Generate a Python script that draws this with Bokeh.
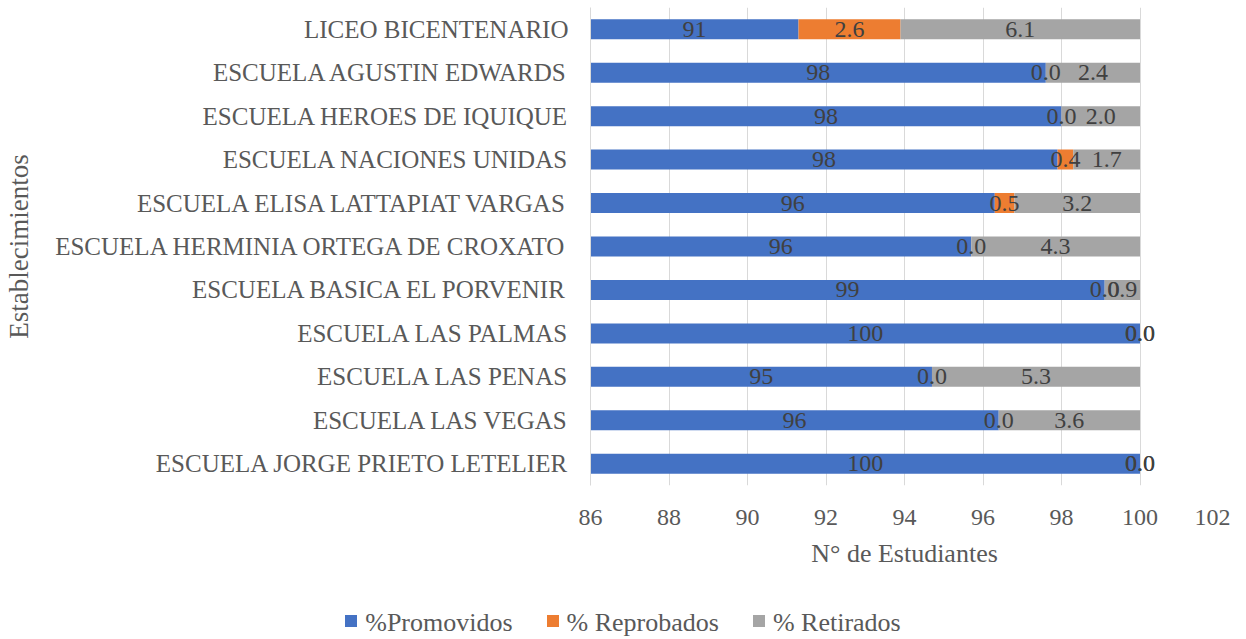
from bokeh.plotting import figure
from bokeh.layouts import column
from bokeh.models import ColumnDataSource, FactorRange, LabelSet, Range1d, Div
from bokeh.embed import file_html
from bokeh.resources import INLINE
from bokeh.core.properties import value

# Categories listed bottom -> top
schools = [
    "ESCUELA JORGE PRIETO LETELIER",
    "ESCUELA LAS VEGAS",
    "ESCUELA LAS PENAS",
    "ESCUELA LAS PALMAS",
    "ESCUELA BASICA EL PORVENIR",
    "ESCUELA HERMINIA ORTEGA DE CROXATO",
    "ESCUELA ELISA LATTAPIAT VARGAS",
    "ESCUELA NACIONES UNIDAS",
    "ESCUELA HEROES DE IQUIQUE",
    "ESCUELA AGUSTIN EDWARDS",
    "LICEO BICENTENARIO",
]
promovidos = [100.0, 96.4, 94.7, 100.0, 99.1, 95.7, 96.3, 97.9, 98.0, 97.6, 91.3]
reprobados = [0.0, 0.0, 0.0, 0.0, 0.0, 0.0, 0.5, 0.4, 0.0, 0.0, 2.6]
retirados = [0.0, 3.6, 5.3, 0.0, 0.9, 4.3, 3.2, 1.7, 2.0, 2.4, 6.1]
series_names = ["%Promovidos", "% Reprobados", "% Retirados"]
x_ticks = [86, 88, 90, 92, 94, 96, 98, 100, 102]

X_START, X_END = 86, 102
FONT = "Liberation Serif"
colors = ["#4472C4", "#ED7D31", "#A5A5A5"]

source = ColumnDataSource(dict(
    school=schools, prom=promovidos, rep=reprobados, ret=retirados,
    prom_x=[(X_START + p) / 2 for p in promovidos],
    rep_x=[p + r / 2 for p, r in zip(promovidos, reprobados)],
    ret_x=[p + r + t / 2 for p, r, t in zip(promovidos, reprobados, retirados)],
    prom_t=[f"{p:.0f}" for p in promovidos],
    rep_t=[f"{r:.1f}" for r in reprobados],
    ret_t=[f"{t:.1f}" for t in retirados],
))

p = figure(
    y_range=FactorRange(*schools, range_padding=0),
    x_range=Range1d(X_START, X_END),
    width=1230, height=606,
    min_border_left=590, min_border_right=12, min_border_top=7, min_border_bottom=121,
    output_backend="svg", toolbar_location=None,
)
p.outline_line_color = None

renderers = p.hbar_stack(["prom", "rep", "ret"], y="school", height=0.46,
                         color=colors, line_color=None, source=source)

for xcol, tcol in (("prom_x", "prom_t"), ("rep_x", "rep_t"), ("ret_x", "ret_t")):
    p.add_layout(LabelSet(x=xcol, y="school", text=tcol, source=source,
                          text_align="center", text_baseline="middle",
                          text_font=value(FONT), text_font_size="24px",
                          text_color="#404040"))

p.xaxis.ticker = x_ticks
p.xaxis.axis_line_color = None
p.xaxis.major_tick_line_color = None
p.xaxis.minor_tick_line_color = None
p.xaxis.major_label_text_font = FONT
p.xaxis.major_label_text_font_size = "24px"
p.xaxis.major_label_text_color = "#595959"
p.xaxis.major_label_standoff = 18
p.xaxis.axis_label = "N° de Estudiantes"
p.xaxis.axis_label_text_font = FONT
p.xaxis.axis_label_text_font_size = "26px"
p.xaxis.axis_label_text_font_style = "normal"
p.xaxis.axis_label_text_color = "#595959"
p.xaxis.axis_label_standoff = 11

p.yaxis.axis_line_color = "#d9d9d9"
p.yaxis.major_tick_line_color = None
p.yaxis.minor_tick_line_color = None
p.yaxis.major_tick_out = 0
p.yaxis.major_tick_in = 0
p.yaxis.minor_tick_out = 0
p.yaxis.minor_tick_in = 0
p.yaxis.major_label_text_font = FONT
p.yaxis.major_label_text_font_size = "25px"
p.yaxis.major_label_text_color = "#595959"
p.yaxis.major_label_standoff = 22
p.yaxis.axis_label = "Establecimientos"
p.yaxis.axis_label_text_font = FONT
p.yaxis.axis_label_text_font_size = "27px"
p.yaxis.axis_label_text_font_style = "normal"
p.yaxis.axis_label_text_color = "#595959"
p.yaxis.axis_label_standoff = 18

p.xgrid.grid_line_color = "#d9d9d9"
p.ygrid.grid_line_color = None

# Legend strip under the chart
def key(color, label, last=False):
    sq = (f'<span style="display:inline-block;width:12px;height:12px;background:{color};'
          f'margin-right:8px;vertical-align:middle;position:relative;top:-1px"></span>')
    gap = "" if last else '<span style="display:inline-block;width:34px"></span>'
    return sq + f'<span style="vertical-align:middle">{label}</span>' + gap

legend_html = "".join(key(c, n, i == len(colors) - 1)
                      for i, (c, n) in enumerate(zip(colors, series_names)))
legend_div = Div(
    text=(f'<div style="width:1230px;padding-left:6px;box-sizing:border-box;text-align:center;'
          f'white-space:nowrap;font-family:\'{FONT}\';font-size:26px;line-height:25px;'
          f'margin-top:-4px;color:#595959">{legend_html}</div>'),
    width=1230, height=25,
)

layout = column(p, legend_div, spacing=0)
open("out.html", "w").write(file_html(layout, INLINE))
